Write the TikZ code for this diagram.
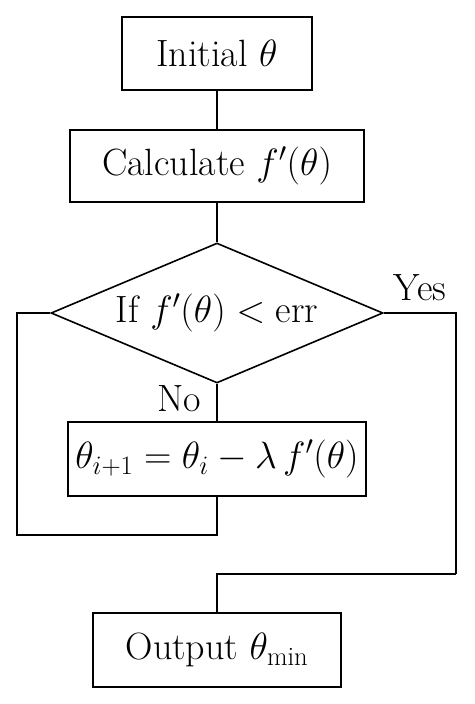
\RequirePackage{fix-cm}
\documentclass[tikz,border=0pt]{standalone}
\usepackage{fontspec}
\usepackage{tikz}
\usetikzlibrary{shapes.geometric}

\begin{document}
\begin{tikzpicture}[x=1pt, y=-1pt]

\useasboundingbox (0, 0) rectangle (474, 704) ;

\def\axisx{217}
\def\linewd{1.6pt}

\tikzstyle{flow box} =
	[draw=black, line width=\linewd, shape=rectangle, inner sep=0pt, font=\fontsize{38}{45}\selectfont]
\tikzstyle{flow test} =
	[draw=black, line width=\linewd, shape=diamond, aspect=2.37, inner sep=0pt, font=\fontsize{38}{45}\selectfont]
\tikzstyle{flow line} =
	[line width=\linewd, color=black]
\tikzstyle{flow label} =
	[inner sep=0pt, font=\fontsize{38}{45}\selectfont]

% boxes

\node [flow box, minimum width=190, minimum height=73] (initial) at (\axisx, 53.5) {Initial $\theta$} ;
\node [flow box, minimum width=294, minimum height=72] (calculate) at (\axisx, 166) {Calculate $f'(\theta)$} ;
\node [flow test, minimum width=332, minimum height=140] (test) at (\axisx, 313) {If $f'(\theta) < \mathrm{err}$} ;
\node [flow box, minimum width=298, minimum height=74] (update) at (\axisx, 459) {$\theta_{i+1} = \theta_i - \lambda\, f'(\theta)$} ;
\node [flow box, minimum width=248, minimum height=74] (output) at (\axisx, 650) {Output $\theta_{\mathrm{min}}$} ;

% connectors

\coordinate (loopcorner) at (17, 535) ;
\coordinate (yescorner) at (456, 574) ;

\draw [flow line] (initial.south) -- (calculate.north) ;
\draw [flow line] (calculate.south) -- (test.north) ;
\draw [flow line] (test.south) -- (update.north)
	node [flow label, pos=0.4, left=15pt] {No} ;
\draw [flow line] (update.south) |- (loopcorner) |- (test.west) ;
\draw [flow line] (test.east) -| (yescorner)
	node [flow label, pos=0.25, above=11pt] {Yes} ;
\draw [flow line] (yescorner) -| (output.north) ;

\end{tikzpicture}
\end{document}
